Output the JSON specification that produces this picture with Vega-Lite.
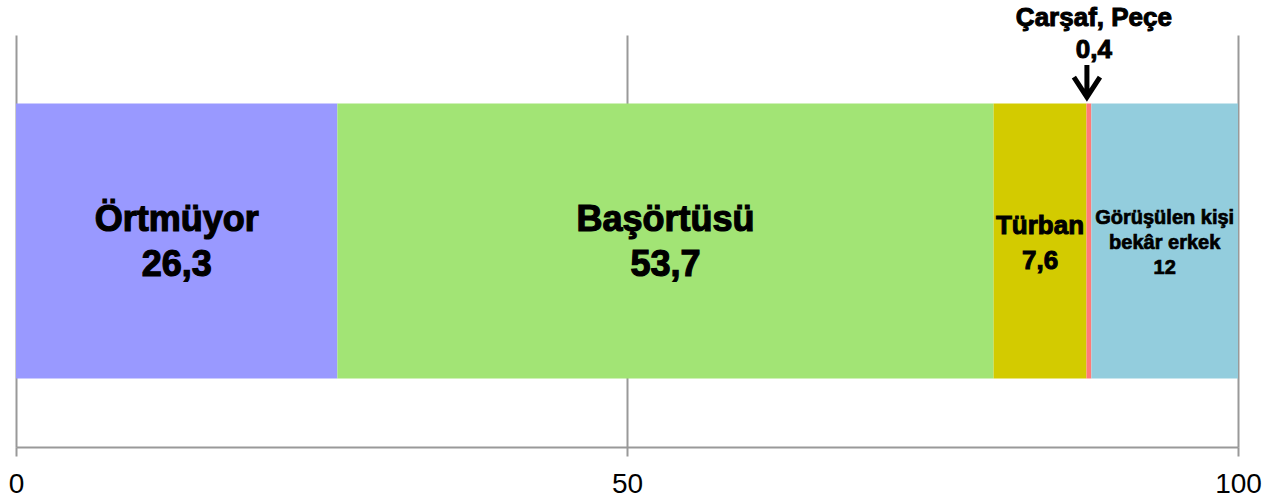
{
  "$schema": "https://vega.github.io/schema/vega-lite/v6.json",
  "width": 1222,
  "height": 412,
  "autosize": {"type": "none"},
  "padding": {"left": 16, "top": 35, "right": 39, "bottom": 56},
  "config": {"view": {"stroke": null}},
  "data": {
    "values": [
      {"cat": "Örtmüyor", "ord": 1, "value": 26.3, "label": ["Örtmüyor", "26,3"]},
      {"cat": "Başörtüsü", "ord": 2, "value": 53.7, "label": ["Başörtüsü", "53,7"]},
      {"cat": "Türban", "ord": 3, "value": 7.6, "label": ["Türban", "7,6"]},
      {"cat": "Çarşaf, Peçe", "ord": 4, "value": 0.4, "label": ["Çarşaf, Peçe", "0,4"]},
      {"cat": "Görüşülen kişi bekâr erkek", "ord": 5, "value": 12, "label": ["Görüşülen kişi", "bekâr erkek", "12"]}
    ]
  },
  "encoding": {
    "y": {"datum": "all", "type": "nominal", "scale": {"paddingInner": 0, "paddingOuter": 0.249}, "axis": null},
    "order": {"field": "ord", "type": "quantitative"}
  },
  "layer": [
    {
      "mark": {"type": "bar"},
      "encoding": {
        "x": {
          "field": "value", "type": "quantitative", "stack": "zero",
          "scale": {"domain": [0, 100], "nice": false},
          "axis": {
            "values": [0, 50, 100], "title": null, "grid": true,
            "gridColor": "#999999", "gridWidth": 2,
            "domainColor": "#999999", "domainWidth": 2,
            "tickColor": "#999999", "tickWidth": 2, "tickSize": 9,
            "labelFont": "Liberation Sans", "labelFontSize": 28, "labelColor": "#000000",
            "labelPadding": 14, "labelFlush": false
          }
        },
        "color": {
          "field": "cat", "type": "nominal", "legend": null,
          "scale": {
            "domain": ["Örtmüyor", "Başörtüsü", "Türban", "Çarşaf, Peçe", "Görüşülen kişi bekâr erkek"],
            "range": ["#9999FF", "#A2E475", "#D3CB00", "#FF7A78", "#93CDDD"]
          }
        }
      }
    },
    {
      "mark": {"type": "text", "font": "Liberation Sans", "fontWeight": "bold", "fontSize": 36, "lineHeight": 45, "baseline": "middle", "align": "center", "dy": -21, "color": "#000000", "stroke": "#000000", "strokeWidth": 1.2},
      "encoding": {
        "x": {"field": "value", "type": "quantitative", "stack": "zero", "bandPosition": 0.5},
        "text": {"condition": {"test": "datum.ord <= 2", "field": "label"}, "value": ""}
      }
    },
    {
      "mark": {"type": "text", "font": "Liberation Sans", "fontWeight": "bold", "fontSize": 26, "lineHeight": 35, "baseline": "middle", "align": "center", "dy": -15, "color": "#000000", "stroke": "#000000", "strokeWidth": 1},
      "encoding": {
        "x": {"field": "value", "type": "quantitative", "stack": "zero", "bandPosition": 0.5},
        "text": {"condition": {"test": "datum.ord == 3", "field": "label"}, "value": ""}
      }
    },
    {
      "mark": {"type": "text", "font": "Liberation Sans", "fontWeight": "bold", "fontSize": 20, "lineHeight": 25, "baseline": "middle", "align": "center", "dy": -23, "color": "#000000", "stroke": "#000000", "strokeWidth": 0.7},
      "encoding": {
        "x": {"field": "value", "type": "quantitative", "stack": "zero", "bandPosition": 0.5},
        "text": {"condition": {"test": "datum.ord == 5", "field": "label"}, "value": ""}
      }
    },
    {
      "mark": {"type": "text", "font": "Liberation Sans", "fontWeight": "bold", "fontSize": 26, "lineHeight": 32, "baseline": "middle", "align": "center", "dy": -223, "dx": 5, "color": "#000000", "stroke": "#000000", "strokeWidth": 1},
      "encoding": {
        "x": {"field": "value", "type": "quantitative", "stack": "zero", "bandPosition": 0.5},
        "text": {"condition": {"test": "datum.ord == 4", "field": "label"}, "value": ""}
      }
    },
    {
      "mark": {"type": "point", "shape": "M0,-1L0,0.9M-0.79,-0.27L0,0.95L0.79,-0.27", "size": 1089, "filled": false, "stroke": "#000000", "strokeWidth": 5, "strokeJoin": "miter", "strokeCap": "butt", "opacity": 1, "yOffset": -159.5, "xOffset": -2},
      "encoding": {
        "x": {"field": "value", "type": "quantitative", "stack": "zero", "bandPosition": 0.5},
        "strokeOpacity": {"condition": {"test": "datum.ord == 4", "value": 1}, "value": 0}
      }
    }
  ]
}
